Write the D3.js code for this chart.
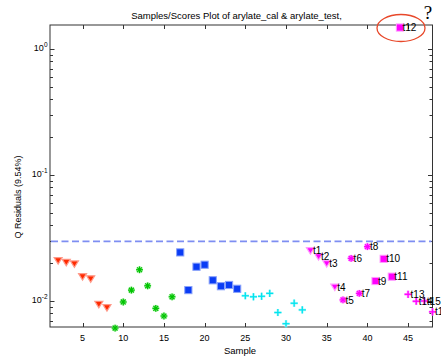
<!DOCTYPE html>
<html>
<head>
<meta charset="utf-8">
<script src="https://cdn.jsdelivr.net/npm/d3@7"></script>
<style>
  html, body { margin: 0; padding: 0; background: #fff; }
  svg { display: block; font-family: "Liberation Sans", Arial, Helvetica, sans-serif; }
</style>
</head>
<body>
<svg id="chart" width="441" height="360"></svg>
<script>
// Calibration classes (sample index, Q residual)
const redSamples   = [2, 3, 4, 5, 6, 7, 8];
const redQ         = [0.0209, 0.0203, 0.0197, 0.0156, 0.0150, 0.00942, 0.00885];
const greenSamples = [9, 10, 11, 12, 13, 14, 15, 16];
const greenQ       = [0.0061, 0.00982, 0.0122, 0.0177, 0.0132, 0.00875, 0.0076, 0.0108];
const blueSamples  = [17, 18, 19, 20, 21, 22, 23, 24];
const blueQ        = [0.0243, 0.0122, 0.0187, 0.0194, 0.0146, 0.0131, 0.0134, 0.0125];
const cyanSamples  = [25, 26, 27, 28, 29, 30, 31, 32];
const cyanQ        = [0.0110, 0.0108, 0.0109, 0.0115, 0.0081, 0.0066, 0.0096, 0.0085];

// Test set
const testSamples = [33, 34, 35, 36, 37, 38, 39, 40, 41, 42, 43, 44, 45, 46, 47, 48];
const testQ       = [0.0251, 0.0225, 0.0198, 0.0129, 0.0102, 0.0218, 0.0115, 0.0270,
                     0.0144, 0.0216, 0.0156, 1.48, 0.0113, 0.00995, 0.0100, 0.0082];
const testLabels  = ["t1", "t2", "t3", "t4", "t5", "t6", "t7", "t8",
                     "t9", "t10", "t11", "t12", "t13", "t14", "t15", "t16"];
const testShapes  = ["tri", "tri", "tri", "tri", "star", "star", "star", "star",
                     "sq", "sq", "sq", "sq", "plus", "plus", "plus", "plus"];

// 95% Q limit
const qLimit = 0.0297;

const xTicks = [5, 10, 15, 20, 25, 30, 35, 40, 45];
const yMajor = [1, 0.1, 0.01];
const yMajorExp = ["0", "-1", "-2"];

const titleText = "Samples/Scores Plot of arylate_cal & arylate_test,";
const xLabel = "Sample";
const yLabel = "Q Residuals (9.54%)";

const L = 50, R = 432.5, T = 25, B = 327;
const svg = d3.select("#chart");

const x = d3.scaleLinear().domain([1, 48]).range([L, R]);
const y = d3.scaleLog().domain([1.55, 0.006217]).range([T, B]);

// frame
const axisColor = "#333";
svg.append("rect").attr("x", L).attr("y", T).attr("width", R - L).attr("height", B - T)
  .attr("fill", "#fff").attr("stroke", axisColor).attr("stroke-width", 1);

// x ticks, bottom and top (inward)
const xt = svg.append("g");
xTicks.forEach(v => {
  const px = Math.round(x(v)) + 0.5;
  xt.append("line").attr("x1", px).attr("x2", px).attr("y1", B).attr("y2", B - 4).attr("stroke", axisColor);
  xt.append("line").attr("x1", px).attr("x2", px).attr("y1", T).attr("y2", T + 4).attr("stroke", axisColor);
  xt.append("text").attr("x", x(v)).attr("y", 340.5).attr("text-anchor", "middle")
    .attr("font-size", 9).text(v);
});

// y ticks, log scale: major and minor, both sides
const yt = svg.append("g");
const [ymin, ymax] = [0.006217, 1.55];
for (let e = -3; e <= 0; e++) {
  for (let m = 1; m <= 9; m++) {
    const v = m * Math.pow(10, e);
    if (v < ymin || v > ymax) continue;
    const py = Math.round(y(v)) + 0.5;
    const len = m === 1 ? 4.5 : 3;
    yt.append("line").attr("x1", L).attr("x2", L + len).attr("y1", py).attr("y2", py).attr("stroke", axisColor);
    yt.append("line").attr("x1", R).attr("x2", R - len).attr("y1", py).attr("y2", py).attr("stroke", axisColor);
  }
}
yMajor.forEach((v, i) => {
  const t = yt.append("text").attr("x", 47.5).attr("y", y(v) + 2.5).attr("text-anchor", "end").attr("font-size", 9);
  t.append("tspan").text("10");
  t.append("tspan").attr("dy", -4.5).attr("font-size", 6.5).text(yMajorExp[i]);
});

// Q limit line
svg.append("line").attr("x1", L + 1).attr("x2", R - 1).attr("y1", y(qLimit)).attr("y2", y(qLimit))
  .attr("stroke", "#7e8ef2").attr("stroke-width", 1.6).attr("stroke-dasharray", "7,3.5");

// marker drawing
function marker(g, shape, color, halo, cx, cy) {
  const s = g.append("g").attr("transform", `translate(${cx},${cy})`);
  if (shape === "tri") {
    const p = "M-4,-3L4,-3L0,3.5Z";
    s.append("path").attr("d", p).attr("fill", color).attr("stroke", halo).attr("stroke-width", 1.2);
  } else if (shape === "sq") {
    s.append("rect").attr("x", -3.6).attr("y", -3.6).attr("width", 7.2).attr("height", 7.2)
      .attr("fill", color).attr("stroke", halo).attr("stroke-width", 1);
  } else if (shape === "star") {
    s.append("circle").attr("r", 3.6).attr("fill", halo).attr("opacity", 0.7);
    const r = 3.4, d = 2.4;
    [[-r, 0, r, 0], [0, -r, 0, r], [-d, -d, d, d], [-d, d, d, -d]].forEach(l =>
      s.append("line").attr("x1", l[0]).attr("y1", l[1]).attr("x2", l[2]).attr("y2", l[3])
        .attr("stroke", color).attr("stroke-width", 1.3));
  } else if (shape === "plus") {
    const r = 3.6;
    [[-r, 0, r, 0], [0, -r, 0, r]].forEach(l =>
      s.append("line").attr("x1", l[0]).attr("y1", l[1]).attr("x2", l[2]).attr("y2", l[3])
        .attr("stroke", halo).attr("stroke-width", 2.6));
    [[-r, 0, r, 0], [0, -r, 0, r]].forEach(l =>
      s.append("line").attr("x1", l[0]).attr("y1", l[1]).attr("x2", l[2]).attr("y2", l[3])
        .attr("stroke", color).attr("stroke-width", 1.3));
  }
}

const pts = svg.append("g");
redSamples.forEach((s, i) => marker(pts, "tri", "#ff2a00", "#ff9a8a", x(s), y(redQ[i])));
greenSamples.forEach((s, i) => marker(pts, "star", "#00c400", "#a8f0a8", x(s), y(greenQ[i])));
blueSamples.forEach((s, i) => marker(pts, "sq", "#0a3cf5", "#8aa2fa", x(s), y(blueQ[i])));
cyanSamples.forEach((s, i) => marker(pts, "plus", "#00e4ee", "#b4f6fa", x(s), y(cyanQ[i])));
testSamples.forEach((s, i) => marker(pts, testShapes[i], "#ff00ff", "#ff9cff", x(s), y(testQ[i])));

const lab = svg.append("g").attr("font-size", 10).attr("fill", "#000");
testSamples.forEach((s, i) => {
  lab.append("text").attr("x", x(s) + 2.5).attr("y", y(testQ[i]) + 3.6).text(testLabels[i]);
});

// highlight around the outlier
svg.append("ellipse").attr("cx", 401).attr("cy", 28).attr("rx", 24).attr("ry", 13.5)
  .attr("fill", "none").attr("stroke", "#e8482a").attr("stroke-width", 1.3);
svg.append("text").attr("x", 428).attr("y", 18.5).attr("text-anchor", "middle")
  .attr("font-family", "'Liberation Serif', 'DejaVu Serif', serif").attr("font-size", 19).text("?");

// titles
svg.append("text").attr("x", 236.5).attr("y", 19).attr("text-anchor", "middle")
  .attr("font-size", 9.5).text(titleText);
svg.append("text").attr("x", 240).attr("y", 353.5).attr("text-anchor", "middle")
  .attr("font-size", 9.5).text(xLabel);
svg.append("text").attr("transform", "translate(21,197) rotate(-90)").attr("text-anchor", "middle")
  .attr("font-size", 9).text(yLabel);
</script>
</body>
</html>
